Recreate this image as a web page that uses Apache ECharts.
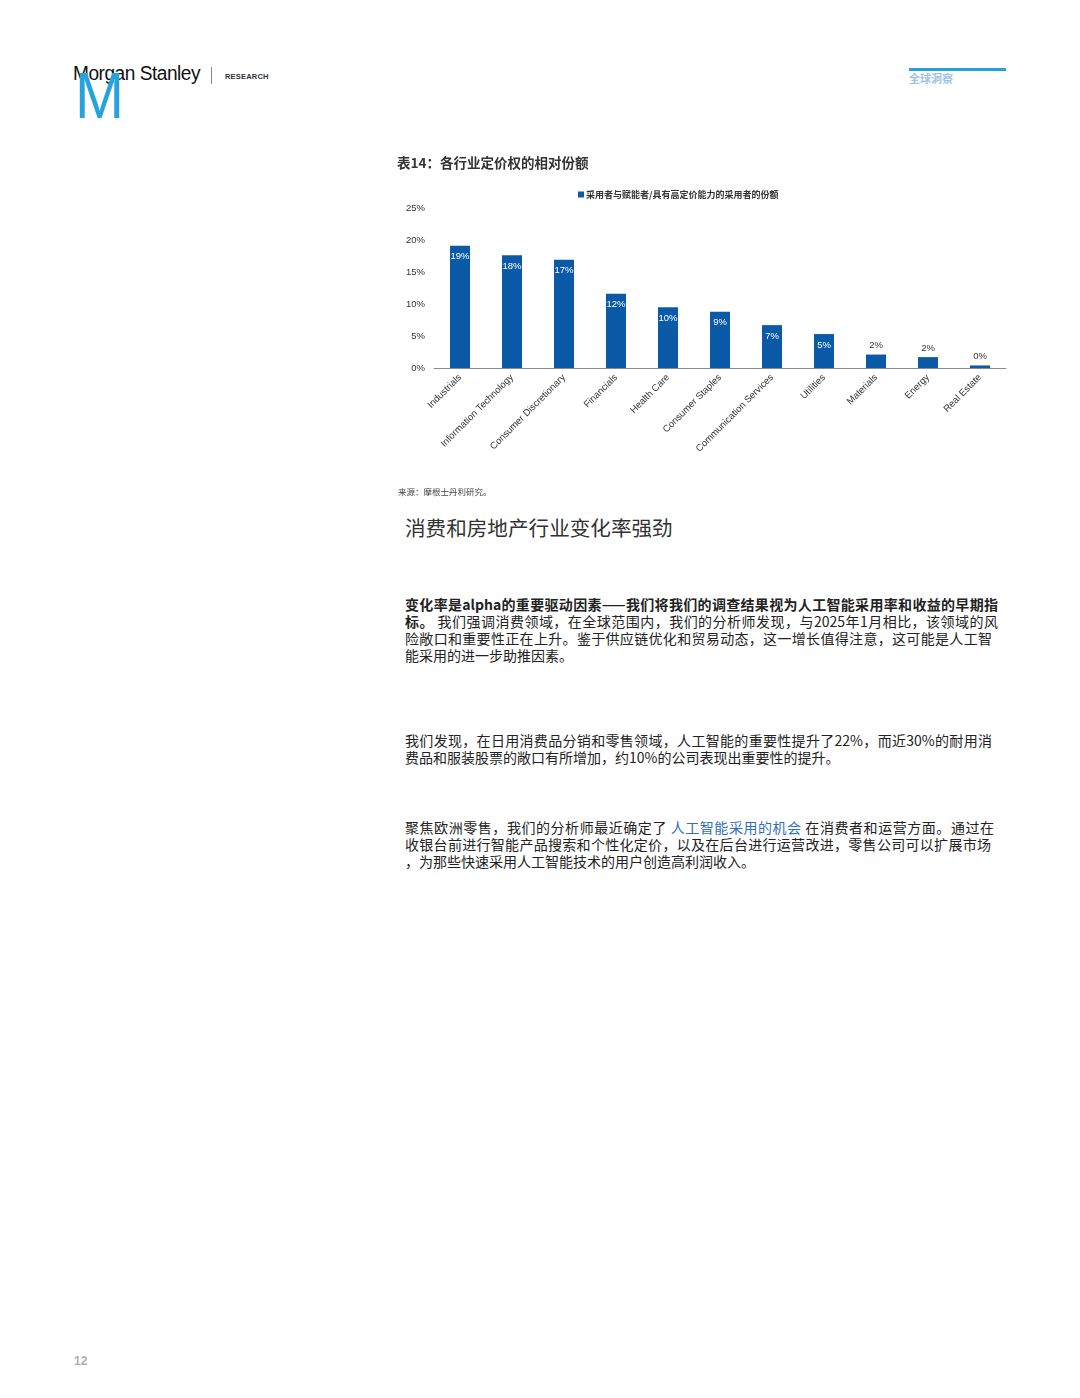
<!DOCTYPE html>
<html><head><meta charset="utf-8">
<script src="https://cdn.jsdelivr.net/npm/echarts@6/dist/echarts.min.js"></script>
<style>
body{margin:0;width:1080px;height:1398px;background:#fff;position:relative;font-family:"Noto Sans CJK SC","Noto Sans",sans-serif;color:#222;overflow:hidden}
.abs{position:absolute;white-space:nowrap}
.p{position:absolute;left:405px;width:593px;font-size:14px;line-height:17px;color:#222}
.p div{white-space:nowrap;height:17px}
.j{text-align:justify;text-align-last:justify}
</style></head><body>
<div class="abs" style="left:73px;top:62px;font-family:'Liberation Sans',Arial,sans-serif;font-size:20px;color:#111;letter-spacing:-0.5px;transform:scaleX(0.955);transform-origin:left">Morgan Stanley</div>
<div class="abs" style="left:75px;top:64px;font-family:'Liberation Sans',Arial,sans-serif;font-size:64px;color:#26a3dd;line-height:64px;transform:scaleX(0.92);transform-origin:left">M</div>
<div class="abs" style="left:211px;top:67px;width:1px;height:17px;background:#888"></div>
<div class="abs" style="left:225px;top:72px;font-family:'Liberation Sans',Arial,sans-serif;font-size:7.5px;font-weight:bold;letter-spacing:0.2px;color:#333">RESEARCH</div>
<div class="abs" style="left:909px;top:68px;width:97px;height:3px;background:#2a9fd8"></div>
<div class="abs" style="left:909px;top:70px;font-size:11px;font-weight:bold;color:#9cc4e4">全球洞察</div>

<div id="chart" style="position:absolute;left:390px;top:145px;width:625px;height:360px"></div>

<div class="abs" style="left:405px;top:512px;font-size:20.6px;color:#333">消费和房地产行业变化率强劲</div>

<div class="p" style="top:596px">
<div class="j" style="font-weight:bold">变化率是alpha的重要驱动因素——我们将我们的调查结果视为人工智能采用率和收益的早期指</div>
<div class="j"><b>标。</b> 我们强调消费领域，在全球范围内，我们的分析师发现，与2025年1月相比，该领域的风</div>
<div class="j" style="width:587px">险敞口和重要性正在上升。鉴于供应链优化和贸易动态，这一增长值得注意，这可能是人工智</div>
<div>能采用的进一步助推因素。</div>
</div>

<div class="p" style="top:732px">
<div class="j" style="width:587px">我们发现，在日用消费品分销和零售领域，人工智能的重要性提升了22%，而近30%的耐用消</div>
<div>费品和服装股票的敞口有所增加，约10%的公司表现出重要性的提升。</div>
</div>

<div class="p" style="top:819px">
<div class="j" style="width:589px">聚焦欧洲零售，我们的分析师最近确定了 <span style="color:#2f6fba">人工智能采用的机会</span> 在消费者和运营方面。通过在</div>
<div class="j" style="width:586px">收银台前进行智能产品搜索和个性化定价，以及在后台进行运营改进，零售公司可以扩展市场</div>
<div>，为那些快速采用人工智能技术的用户创造高利润收入。</div>
</div>

<div class="abs" style="left:74px;top:1354px;font-size:12px;font-weight:bold;color:#b0b0b0;font-family:'Liberation Sans',Arial,sans-serif">12</div>

<script>
const categories = ["Industrials","Information Technology","Consumer Discretionary","Financials","Health Care","Consumer Staples","Communication Services","Utilities","Materials","Energy","Real Estate"];
const values = [19.1,17.6,16.9,11.6,9.5,8.8,6.7,5.3,2.1,1.7,0.4];
const yTicks = [0,5,10,15,20,25];
const seriesName = "采用者与赋能者/具有高定价能力的采用者的份额";
const insideLabelCount = 8;

const narrow = "'Liberation Sans Narrow','Arial Narrow','Liberation Sans',sans-serif";
const chart = echarts.init(document.getElementById('chart'));
chart.setOption({
  animation:false,
  title:[
    {text:"表14：各行业定价权的相对份额",left:2,top:6,textStyle:{fontSize:13.5,fontWeight:'bold',color:'#333',fontFamily:"Noto Sans CJK SC"}},
    {text:"来源：摩根士丹利研究。",left:3,top:338,textStyle:{fontSize:8.5,fontWeight:'normal',color:'#444',fontFamily:"Noto Sans CJK SC"}}
  ],
  legend:{data:[seriesName],left:183,top:40,icon:'rect',itemWidth:6,itemHeight:6,itemGap:4,
    textStyle:{fontSize:9,fontWeight:'bold',color:'#333',fontFamily:"Noto Sans CJK SC",padding:[0,0,0,-3]}},
  grid:{left:44,right:9,top:63,bottom:137,containLabel:false},
  xAxis:{type:'category',data:categories,
    axisLine:{lineStyle:{color:'#8a8a8a',width:1}},
    axisTick:{alignWithLabel:true,length:3,lineStyle:{color:'#8a8a8a'}},
    axisLabel:{rotate:45,fontSize:9.5,color:'#333',fontFamily:narrow,interval:0,margin:8}},
  yAxis:{type:'value',min:yTicks[0],max:yTicks[yTicks.length-1],interval:5,
    splitLine:{show:false},axisLine:{show:false},axisTick:{show:false},
    axisLabel:{formatter:v=>v+'%',fontSize:9.5,color:'#333',fontFamily:narrow,margin:9}},
  series:[{name:seriesName,type:'bar',barWidth:20,
    itemStyle:{color:'#0b5aa7'},
    data:values.map((v,i)=>({value:v,label:i<insideLabelCount?
      {show:true,position:'insideTop',color:'#fff',distance:6}:
      {show:true,position:'top',color:'#333',distance:4}})),
    label:{formatter:p=>Math.round(p.value)+'%',fontSize:9.5,fontFamily:narrow}
  }]
});
</script>
</body></html>
